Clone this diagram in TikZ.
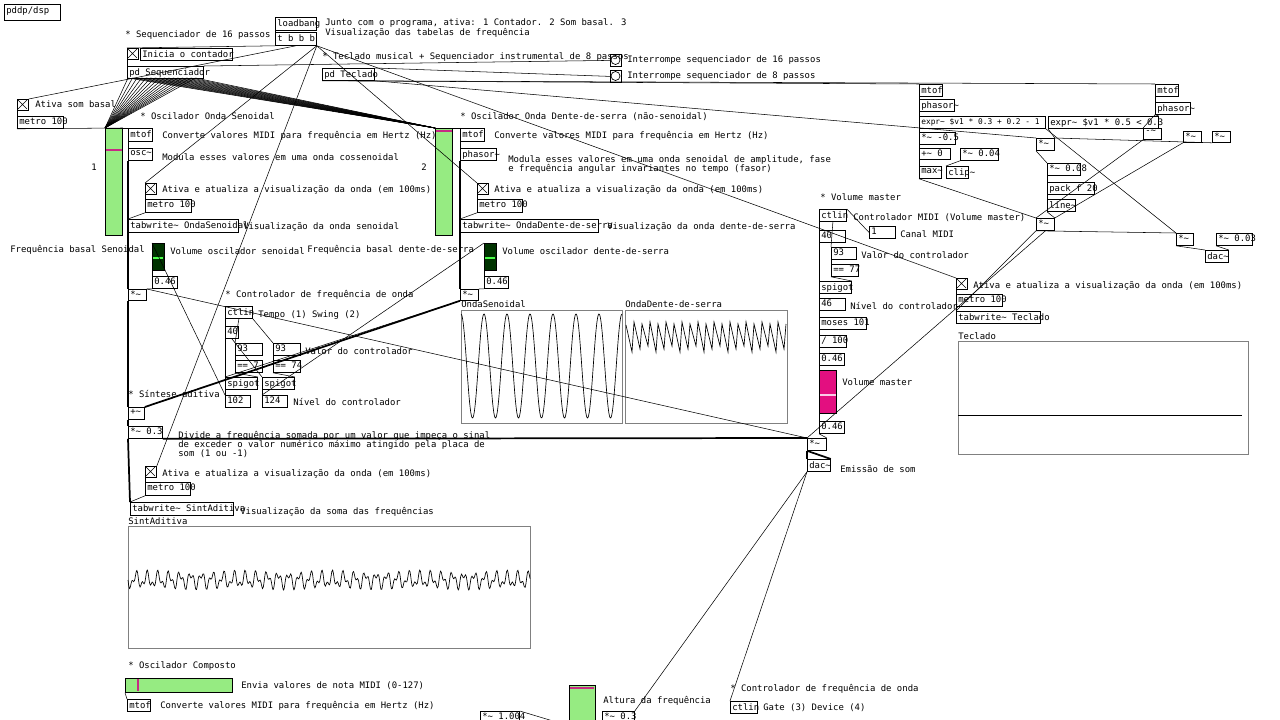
\documentclass[tikz,border=0pt]{standalone}
\usepackage{fontspec}
\setmainfont{DejaVu Sans Mono}
\begin{document}
\fontsize{6.7}{8}\selectfont
\newcommand\tl{\char`\~}
\definecolor{pdg}{RGB}{150,235,130}
\begin{tikzpicture}[x=0.75pt,y=-0.75pt,
 box/.style={draw,anchor=north west,inner sep=0pt,line width=0.6pt},
 txt/.style={anchor=north west,inner sep=0pt},
 con/.style={line width=0.4pt},
 sig/.style={line width=1.3pt},
 sl/.style={draw,fill=pdg,line width=0.6pt}]
\useasboundingbox (0,0) rectangle (1280,720);
\fill[white] (0,0) rectangle (1280,720);
\newcommand\ob[6]{\node[box,minimum width=#4*0.75pt,minimum height=#5*0.75pt] (#1) at (#2,#3) {};\node[txt] at (#2+2,#3+2) {#6};}
\newcommand\cm[3]{\node[txt] at (#1,#2) {#3};}
\newcommand\tg[3]{\node[box,minimum width=8.25pt,minimum height=8.25pt] (#1) at (#2,#3) {};\draw[line width=0.5pt] (#2+1,#3+1)--(#2+10,#3+10) (#2+10,#3+1)--(#2+1,#3+10);}
\newcommand\bg[3]{\node[box,minimum width=8.25pt,minimum height=9pt] (#1) at (#2,#3) {};\draw[line width=0.5pt] (#2+5.5,#3+6) circle (4.5);}
% header
\ob{dsp}{4}{4}{56}{16}{pddp/dsp}
\ob{lb}{275}{17}{41}{13}{loadbang}
\ob{tbbb}{275}{32}{41}{13}{t b b b}
\cm{325}{18}{Junto com o programa, ativa: 1 Contador. 2 Som basal. 3}
\cm{325}{28}{Visualização das tabelas de frequência}
\cm{125}{30}{* Sequenciador de 16 passos}
\tg{tgseq}{127}{48}
\ob{ini}{140}{48}{92}{12}{Inicia o contador}
\ob{seq}{127}{66}{76}{12}{pd Sequenciador}
\cm{322}{52}{* Teclado musical + Sequenciador instrumental de 8 passos}
\ob{tec}{322}{68}{52}{12}{pd Teclado}
\bg{b16}{610}{54}\bg{b8}{610}{70}
\cm{627}{55}{Interrompe sequenciador de 16 passos}
\cm{627}{71}{Interrompe sequenciador de 8 passos}
\tg{tgbas}{17}{99}\cm{35}{100}{Ativa som basal}
\ob{metb}{17}{116}{46}{12}{metro 100}
% oscillator 1
\node[sl,box,minimum width=12.75pt,minimum height=80pt] (sl1) at (105,128) {};
\draw[magenta!80!black,line width=1.5pt] (106,150)--(122,150);
\cm{91}{164}{1}
\cm{140}{112}{* Oscilador Onda Senoidal}
\ob{mtof1}{128}{128}{24}{13}{mtof}\cm{162}{131}{Converte valores MIDI para frequência em Hertz (Hz)}
\ob{osc}{128}{148}{24}{12}{osc\tl}\cm{162}{153}{Modula esses valores em uma onda cossenoidal}
\tg{tg1}{145}{183}\cm{162}{185}{Ativa e atualiza a visualização da onda (em 100ms)}
\ob{met1}{145}{199}{46}{13}{metro 100}
\ob{tw1}{128}{219}{110}{13}{tabwrite\tl\ OndaSenoidal}\cm{243}{222}{Visualização da onda senoidal}
\cm{10}{245}{Frequência basal Senoidal}
\node[box,fill=green!20!black,minimum width=9pt,minimum height=20pt] (v1) at (152,243) {};
\draw[green!70,line width=1.5pt] (153,258)--(163,258);
\cm{170}{247}{Volume oscilador senoidal}
\ob{n1}{152}{276}{25}{12}{0.46}
\ob{m1}{128}{289}{18}{11}{*\tl}
% oscillator 2
\node[sl,box,minimum width=12.75pt,minimum height=80pt] (sl2) at (435,128) {};
\draw[magenta!80!black,line width=1.5pt] (436,131)--(452,131);
\cm{421}{164}{2}
\cm{460}{112}{* Oscilador Onda Dente-de-serra (não-senoidal)}
\ob{mtof2}{460}{128}{24}{13}{mtof}\cm{494}{131}{Converte valores MIDI para frequência em Hertz (Hz)}
\ob{ph}{460}{148}{36}{12}{phasor\tl}
\cm{508}{155}{Modula esses valores em uma onda senoidal de amplitude, fase}
\cm{508}{164}{e frequência angular invariantes no tempo (fasor)}
\tg{tg2}{477}{183}\cm{494}{185}{Ativa e atualiza a visualização da onda (em 100ms)}
\ob{met2}{477}{199}{45}{13}{metro 100}
\ob{tw2}{460}{219}{138}{13}{tabwrite\tl\ OndaDente-de-serra}\cm{607}{222}{Visualização da onda dente-de-serra}
\cm{307}{245}{Frequência basal dente-de-serra}
\node[box,fill=green!20!black,minimum width=9pt,minimum height=20pt] (v2) at (484,243) {};
\draw[green!70,line width=1.5pt] (485,258)--(495,258);
\cm{502}{247}{Volume oscilador dente-de-serra}
\ob{n2}{484}{276}{24}{12}{0.46}
\ob{m2}{460}{289}{18}{11}{*\tl}
% controller
\cm{225}{290}{* Controlador de frequência de onda}
\ob{ct1}{225}{306}{27}{12}{ctlin}\cm{258}{310}{Tempo (1) Swing (2)}
\ob{c40}{225}{326}{13}{12}{40}
\ob{c93a}{235}{343}{27}{12}{93}\ob{c93b}{273}{343}{27}{12}{93}\cm{305}{347}{Valor do controlador}
\ob{e7}{235}{360}{27}{12}{== 7}\ob{e74}{273}{360}{27}{12}{== 74}
\ob{sp1}{225}{377}{32}{12}{spigot}\ob{sp2}{262}{377}{32}{12}{spigot}
\ob{v102}{225}{395}{25}{12}{102}\ob{v124}{262}{395}{25}{12}{124}\cm{293}{398}{Nível do controlador}
% additive
\cm{128}{390}{* Síntese aditiva}
\ob{plus}{128}{407}{16}{12}{+\tl}
\ob{m03}{128}{426}{34}{12}{*\tl\ 0.3}
\cm{178}{431}{Divide a frequência somada por um valor que impeça o sinal}
\cm{178}{440}{de exceder o valor numérico máximo atingido pela placa de}
\cm{178}{449}{som (1 ou -1)}
\tg{tg3}{145}{466}\cm{162}{469}{Ativa e atualiza a visualização da onda (em 100ms)}
\ob{met3}{145}{482}{45}{13}{metro 100}
\ob{tw3}{130}{502}{103}{13}{tabwrite\tl\ SintAditiva}\cm{240}{507}{Visualização da soma das frequências}
\cm{128}{517}{SintAditiva}
\node[box,draw=gray,minimum width=301.5pt,minimum height=91.5pt] (arrA) at (128,526) {};
\draw[line width=0.5pt] plot[domain=0:402,samples=500,smooth] ({128+\x},{580+6*sin(mod(\x*11,360)*3)+4*sin(mod(\x*7,360)*10)});
\cm{461}{300}{OndaSenoidal}
\node[box,draw=gray,minimum width=120.75pt,minimum height=84.75pt] (arrS) at (461,310) {};
\draw[line width=0.5pt] plot[domain=0:161,samples=300,smooth] ({461+\x},{366-52*cos(\x/23*360)});
\cm{625}{300}{OndaDente-de-serra}
\node[box,draw=gray,minimum width=121.5pt,minimum height=84.75pt] (arrD) at (625,310) {};
\draw[line width=0.5pt] (626,325) \foreach \i in {0,...,19} { -- (632+8*\i,{352-3*mod(\i,3)}) -- (634+8*\i,{322+2*mod(\i,2)})};
% volume master
\cm{820}{193}{* Volume master}
\ob{ct2}{819}{209}{27}{12}{ctlin}\cm{853}{213}{Controlador MIDI (Volume master)}
\ob{c40b}{819}{230}{26}{12}{40}\ob{ch}{869}{226}{26}{12}{1}\cm{900}{230}{Canal MIDI}
\ob{c93c}{831}{247}{25}{12}{93}\cm{861}{251}{Valor do controlador}
\ob{e77}{831}{264}{27}{12}{== 77}
\ob{sp3}{819}{281}{32}{12}{spigot}
\ob{n46}{819}{298}{26}{12}{46}\cm{850}{302}{Nível do controlador}
\ob{mos}{819}{317}{47}{12}{moses 101}
\ob{d100}{819}{335}{27}{12}{/ 100}
\ob{n3}{819}{353}{25}{12}{0.46}
\node[box,fill=magenta!80!purple,minimum width=12.75pt,minimum height=32pt] (vm) at (819,370) {};
\draw[white!80!magenta,line width=1.5pt] (820,395)--(836,395);
\cm{842}{378}{Volume master}
\ob{n4}{819}{421}{25}{12}{0.46}
\ob{mm}{807}{438}{19}{12}{*\tl}
\ob{dac}{807}{459}{23}{12}{dac\tl}\cm{840}{465}{Emissão de som}
% right cluster
\ob{rmt1}{919}{84}{23}{12}{mtof}
\ob{rph1}{919}{99}{35}{12}{phasor\tl}
\ob{rex1}{919}{116}{126}{12}{\fontsize{5.9}{7}\selectfont expr\tl\ \$v1 * 0.3 + 0.2 - 1}
\ob{rm05}{919}{132}{36}{12}{*\tl\ -0.5}
\ob{rp0}{919}{148}{31}{11}{+\tl\ 0}
\ob{rm04}{960}{148}{38}{12}{*\tl\ 0.04}
\ob{rmax}{919}{166}{22}{12}{max\tl}
\ob{rcl}{946}{166}{22}{12}{clip\tl}
\ob{rmt2}{1155}{84}{23}{12}{mtof}
\ob{rph2}{1155}{102}{35}{12}{phasor\tl}
\ob{rex2}{1048}{116}{110}{12}{expr\tl\ \$v1 * 0.5 < 0.3}
\ob{ra}{1143}{128}{18}{11}{-\tl}\ob{rb}{1183}{131}{18}{11}{*\tl}\ob{rc}{1212}{131}{18}{11}{*\tl}
\ob{rm1}{1036}{138}{18}{12}{*\tl}
\ob{rm08}{1047}{163}{33}{12}{*\tl\ 0.08}
\ob{rpk}{1047}{182}{47}{12}{pack f 20}
\ob{rln}{1047}{199}{28}{12}{line\tl}
\ob{rm2}{1036}{218}{18}{12}{*\tl}
\ob{rm3}{1176}{233}{17}{12}{*\tl}
\ob{rm03b}{1216}{233}{36}{12}{*\tl\ 0.03}
\ob{rdac}{1205}{250}{23}{12}{dac\tl}
\tg{tg4}{956}{278}\cm{973}{281}{Ativa e atualiza a visualização da onda (em 100ms)}
\ob{met4}{956}{294}{46}{12}{metro 100}
\ob{tw4}{956}{311}{84}{12}{tabwrite\tl\ Teclado}
\cm{958}{332}{Teclado}
\node[box,draw=gray,minimum width=217.5pt,minimum height=84.75pt] (arrT) at (958,341) {};
\draw[line width=0.5pt] (958,415)--(1242,415);
% bottom
\cm{128}{661}{* Oscilador Composto}
\node[sl,box,minimum width=80pt,minimum height=10.5pt] (hs) at (125,678) {};
\draw[magenta!80!black,line width=1.5pt] (138,679)--(138,691);
\cm{241}{681}{Envia valores de nota MIDI (0-127)}
\ob{mtof3}{127}{699}{23}{12}{mtof}\cm{160}{701}{Converte valores MIDI para frequência em Hertz (Hz)}
\node[sl,box,minimum width=19.5pt,minimum height=30pt] (vs3) at (569,685) {};
\draw[magenta!80!black,line width=1.5pt] (570,688)--(594,688);
\cm{603}{696}{Altura da frequência}
\ob{m1004}{480}{711}{39}{12}{*\tl\ 1.004}
\ob{m03c}{602}{711}{32}{12}{*\tl\ 0.3}
\cm{730}{684}{* Controlador de frequência de onda}
\ob{ct3}{730}{701}{27}{12}{ctlin}\cm{763}{703}{Gate (3) Device (4)}
% fan from sequencer
\foreach \i in {0,...,15}{
 \coordinate (so\i) at (128+4.5*\i,78);
 \draw[con] (so\i) -- (sl1.north west);
 \draw[con] (so\i) -- (sl2.north west);
}
% connections
\draw[con] (lb.south west)--(tbbb.north west);
\draw[con] (tbbb.south west)--(tgseq.north west);
\draw[con] (tbbb.south)--(tgbas.north east);
\draw[con] (tbbb.south east)--(tg1.north west);
\draw[con] (tbbb.south east)--(tg2.north west);
\draw[con] (tbbb.south east)--(tg3.north east);
\draw[con] (tbbb.south east)--(tg4.north west);
\draw[con] (tgseq.south west)--(seq.north west);
\draw[con] (b16.west)--(seq.north east);
\draw[con] (b8.west)--(tec.north east);
\draw[con] (tec.south west)--(rmt1.north west);
\draw[con] (tec.south)--(rmt2.north west);
\draw[con] (tec.south east)--(rm1.north west);
\draw[con] (tgbas.south west)--(metb.north west);
\draw[con] (metb.south west)--(sl1.north east);
\draw[con] (sl1.north east)--(mtof1.north west);
\draw[con] (sl2.north east)--(mtof2.north west);
\draw[con] (mtof1.south west)--(osc.north west);
\draw[con] (mtof2.south west)--(ph.north west);
\draw[sig] (osc.south west)--(tw1.north west);
\draw[sig] (ph.south west)--(tw2.north west);
\draw[con] (tg1.south west)--(met1.north west);
\draw[con] (tg2.south west)--(met2.north west);
\draw[con] (met1.south west)--(tw1.north west);
\draw[con] (met2.south west)--(tw2.north west);
\draw[sig] (osc.south west)--(m1.north west);
\draw[sig] (ph.south west)--(m2.north west);
\draw[con] (v1.south west)--(n1.north west);
\draw[con] (v2.south west)--(n2.north west);
\draw[con] (n1.south west)--(m1.north east);
\draw[con] (n2.south west)--(m2.north east);
\draw[sig] (m1.south west)--(plus.north west);
\draw[sig] (m2.south west)--(plus.north east);
\draw[sig] (plus.south west)--(m03.north west);
\draw[sig] (m03.south west)--(tw3.north west);
\draw[sig] (m03.south east)--(mm.north west);
\draw[con] (tg3.south west)--(met3.north west);
\draw[con] (met3.south west)--(tw3.north west);
\draw[con] (ct1.south west)--(c40.north west);
\draw[con] (ct1.south)--(c93a.north west);
\draw[con] (ct1.south east)--(c93b.north west);
\draw[con] (c93a.south west)--(e7.north west);
\draw[con] (c93b.south west)--(e74.north west);
\draw[con] (e7.south west)--(sp1.north east);
\draw[con] (e74.south west)--(sp2.north east);
\draw[con] (c40.south west)--(sp1.north west);
\draw[con] (c40.south)--(sp2.north west);
\draw[con] (sp1.south west)--(v102.north west);
\draw[con] (sp2.south west)--(v124.north west);
\draw[con] (v102.north west)--(v1.north west);
\draw[con] (v124.north west)--(v2.north west);
\draw[con] (ct2.south west)--(c40b.north west);
\draw[con] (ct2.south)--(c93c.north west);
\draw[con] (ch.west)--(ct2.north east);
\draw[con] (c93c.south west)--(e77.north west);
\draw[con] (e77.south west)--(sp3.north east);
\draw[con] (c40b.south west)--(sp3.north west);
\draw[con] (sp3.south west)--(n46.north west);
\draw[con] (n46.south west)--(mos.north west);
\draw[con] (mos.south west)--(d100.north west);
\draw[con] (d100.south west)--(n3.north west);
\draw[con] (n3.south west)--(vm.north west);
\draw[con] (vm.south west)--(n4.north west);
\draw[con] (n4.south west)--(mm.north east);
\draw[sig] (mm.south west)--(dac.north west);
\draw[sig] (mm.south west)--(dac.north east);
\draw[con] (rmt1.south west)--(rph1.north west);
\draw[con] (rph1.south west)--(rex1.north west);
\draw[con] (rex1.south west)--(rm05.north west);
\draw[con] (rm05.south west)--(rp0.north west);
\draw[con] (rp0.south west)--(rmax.north west);
\draw[con] (rm04.south west)--(rcl.north west);
\draw[con] (rmt2.south west)--(rph2.north west);
\draw[con] (rph2.south west)--(rex2.north east);
\draw[con] (rph2.south west)--(ra.north west);
\draw[con] (rex2.south west)--(rm1.north east);
\draw[con] (rm1.south west)--(rm08.north west);
\draw[con] (rm08.south west)--(rpk.north west);
\draw[con] (rpk.south west)--(rln.north west);
\draw[con] (rln.south west)--(rm2.north east);
\draw[con] (rmax.south west)--(rm2.north west);
\draw[con] (ra.south west)--(rm2.north west);
\draw[con] (rb.south west)--(rm2.north east);
\draw[con] (rc.south west)--(rm1.north east);
\draw[con] (rex1.south east)--(rm3.north west);
\draw[con] (rm2.south west)--(rm3.north west);
\draw[con] (rm3.south west)--(rdac.north west);
\draw[con] (rm03b.south west)--(rdac.north east);
\draw[con] (rm2.south west)--(tw4.north west);
\draw[con] (tg4.south west)--(met4.north west);
\draw[con] (met4.south west)--(tw4.north west);
\draw[con] (rm2.south)--(mm.north west);
\draw[con] (hs.south west)--(mtof3.north west);
\draw[con] (vs3.south west)--(m1004.north east);
\draw[con] (m03c.north east)--(dac.south west);
\draw[con] (ct3.north west)--(dac.south west);
\draw[con] (m2.south west)--(sp1.north west);
\draw[con] (m1.north east)--(mm.north west);
\end{tikzpicture}
\end{document}
